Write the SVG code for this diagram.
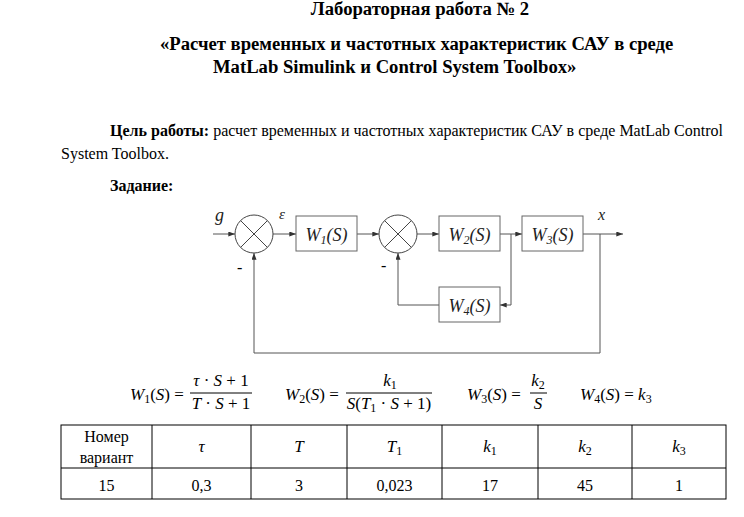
<svg xmlns="http://www.w3.org/2000/svg" width="744" height="517" viewBox="0 0 744 517">
<defs>
<style>
.t{font-family:"Liberation Serif","Times New Roman",serif;fill:#000}
.b{font-weight:bold}
.h{font-size:18.67px}
.p{font-size:16px}
.i{font-style:italic}
.lbl{font-family:"Liberation Serif","Times New Roman",serif;font-style:italic;font-size:18px;fill:#222}
.sub{font-size:12px}
.m{font-family:"Liberation Serif","Times New Roman",serif;font-size:17px;fill:#000}
.mi{font-style:italic}
.ms{font-size:12px}
.box{fill:#fff;stroke:#666;stroke-width:1}
.sum{fill:#fff;stroke:#444;stroke-width:1}
.ln{fill:none;stroke:#555;stroke-width:1}
.tb{fill:none;stroke:#000;stroke-width:1}
</style>
<marker id="ah" viewBox="0 0 8 6" refX="8" refY="3" markerWidth="7" markerHeight="5" markerUnits="userSpaceOnUse" orient="auto">
<path d="M0,0 L8,3 L0,6 Z" fill="#333"/>
</marker>
</defs>
<rect width="744" height="517" fill="#fff"/>

<!-- header -->
<text class="t b h" x="420" y="15" text-anchor="middle">Лабораторная работа № 2</text>
<text class="t b h" x="160" y="50">«Расчет временных и частотных характеристик САУ в среде</text>
<text class="t b h" x="213" y="73">MatLab Simulink и Control System Toolbox»</text>
<text class="t p" x="110" y="136"><tspan class="b">Цель работы:</tspan> расчет временных и частотных характеристик САУ в среде MatLab Control</text>
<text class="t p" x="61" y="159">System Toolbox.</text>
<text class="t p b" x="110" y="191">Задание:</text>

<!-- connectors -->
<g id="connectors">
<path class="ln" d="M213,234 H235" marker-end="url(#ah)"/>
<path class="ln" d="M273,234 H296" marker-end="url(#ah)"/>
<path class="ln" d="M357,234 H379" marker-end="url(#ah)"/>
<path class="ln" d="M417,234 H439" marker-end="url(#ah)"/>
<path class="ln" d="M500,234 H522" marker-end="url(#ah)"/>
<path class="ln" d="M583,234 H623" marker-end="url(#ah)"/>
<path class="ln" d="M511,234 V305 H500" marker-end="url(#ah)"/>
<path class="ln" d="M439,305 H398 V253" marker-end="url(#ah)"/>
<path class="ln" d="M600,234 V353 H254 V253" marker-end="url(#ah)"/>
</g>

<!-- signal labels -->
<text class="lbl" x="215" y="221">g</text>
<text class="lbl" x="279" y="219" style="font-size:15px">ε</text>
<text class="lbl" x="598" y="220" style="font-size:16px">x</text>
<text class="t p" x="237" y="273">-</text>
<text class="t p" x="381" y="271">-</text>

<g id="sum1">
<circle class="sum" cx="254" cy="234" r="19"/>
<path class="sum" d="M240.6,220.6 L267.4,247.4 M267.4,220.6 L240.6,247.4"/>
</g>
<g id="sum2">
<circle class="sum" cx="398" cy="234" r="19"/>
<path class="sum" d="M384.6,220.6 L411.4,247.4 M411.4,220.6 L384.6,247.4"/>
</g>
<g id="W1">
<rect class="box" x="296" y="216" width="61" height="35"/>
<text class="lbl" x="326.5" y="241" text-anchor="middle">W<tspan class="sub" dy="3">1</tspan><tspan dy="-3">(S)</tspan></text>
</g>
<g id="W2">
<rect class="box" x="439" y="216" width="61" height="35"/>
<text class="lbl" x="469.5" y="241" text-anchor="middle">W<tspan class="sub" dy="3">2</tspan><tspan dy="-3">(S)</tspan></text>
</g>
<g id="W3">
<rect class="box" x="522" y="216" width="61" height="35"/>
<text class="lbl" x="552.5" y="241" text-anchor="middle">W<tspan class="sub" dy="3">3</tspan><tspan dy="-3">(S)</tspan></text>
</g>
<g id="W4">
<rect class="box" x="439" y="287" width="61" height="35"/>
<text class="lbl" x="469.5" y="312" text-anchor="middle">W<tspan class="sub" dy="3">4</tspan><tspan dy="-3">(S)</tspan></text>
</g>

<!-- formulas -->
<g id="formulas">
<text class="m" x="130" y="400"><tspan class="mi">W</tspan><tspan class="ms" dy="3">1</tspan><tspan dy="-3">(</tspan><tspan class="mi">S</tspan>) =</text>
<text class="m" x="221" y="386" text-anchor="middle"><tspan class="mi">τ</tspan> · <tspan class="mi">S</tspan> + 1</text>
<line class="tb" x1="190" y1="393" x2="252" y2="393"/>
<text class="m" x="221" y="409" text-anchor="middle"><tspan class="mi">T</tspan> · <tspan class="mi">S</tspan> + 1</text>

<text class="m" x="285" y="400"><tspan class="mi">W</tspan><tspan class="ms" dy="3">2</tspan><tspan dy="-3">(</tspan><tspan class="mi">S</tspan>) =</text>
<text class="m" x="390" y="386" text-anchor="middle"><tspan class="mi">k</tspan><tspan class="ms" dy="3">1</tspan></text>
<line class="tb" x1="346" y1="393" x2="432" y2="393"/>
<text class="m" x="389" y="409" text-anchor="middle"><tspan class="mi">S</tspan>(<tspan class="mi">T</tspan><tspan class="ms" dy="3">1</tspan><tspan dy="-3"> · </tspan><tspan class="mi">S</tspan> + 1)</text>

<text class="m" x="467" y="400"><tspan class="mi">W</tspan><tspan class="ms" dy="3">3</tspan><tspan dy="-3">(</tspan><tspan class="mi">S</tspan>) =</text>
<text class="m" x="538" y="386" text-anchor="middle"><tspan class="mi">k</tspan><tspan class="ms" dy="3">2</tspan></text>
<line class="tb" x1="530" y1="393" x2="547" y2="393"/>
<text class="m mi" x="538" y="409" text-anchor="middle">S</text>

<text class="m" x="580" y="400"><tspan class="mi">W</tspan><tspan class="ms" dy="3">4</tspan><tspan dy="-3">(</tspan><tspan class="mi">S</tspan>) = <tspan class="mi">k</tspan><tspan class="ms" dy="3">3</tspan></text>
</g>

<!-- table -->
<g id="table">
<rect class="tb" x="61" y="425" width="665" height="74"/>
<path class="tb" d="M61,468 H726 M152,425 V499 M251,425 V499 M347,425 V499 M442,425 V499 M538,425 V499 M632,425 V499"/>
<text class="t p" x="106.5" y="442" text-anchor="middle">Номер</text>
<text class="t p" x="106.5" y="463" text-anchor="middle">вариант</text>
<text class="m mi" x="201.5" y="452" text-anchor="middle">τ</text>
<text class="m mi" x="299" y="452" text-anchor="middle">T</text>
<text class="m" x="394.5" y="452" text-anchor="middle"><tspan class="mi">T</tspan><tspan class="ms" dy="3">1</tspan></text>
<text class="m" x="490" y="452" text-anchor="middle"><tspan class="mi">k</tspan><tspan class="ms" dy="3">1</tspan></text>
<text class="m" x="585" y="452" text-anchor="middle"><tspan class="mi">k</tspan><tspan class="ms" dy="3">2</tspan></text>
<text class="m" x="679" y="452" text-anchor="middle"><tspan class="mi">k</tspan><tspan class="ms" dy="3">3</tspan></text>
<text class="t p" x="106.5" y="491" text-anchor="middle">15</text>
<text class="t p" x="201.5" y="491" text-anchor="middle">0,3</text>
<text class="t p" x="299" y="491" text-anchor="middle">3</text>
<text class="t p" x="394.5" y="491" text-anchor="middle">0,023</text>
<text class="t p" x="490" y="491" text-anchor="middle">17</text>
<text class="t p" x="585" y="491" text-anchor="middle">45</text>
<text class="t p" x="679" y="491" text-anchor="middle">1</text>
</g>
</svg>
